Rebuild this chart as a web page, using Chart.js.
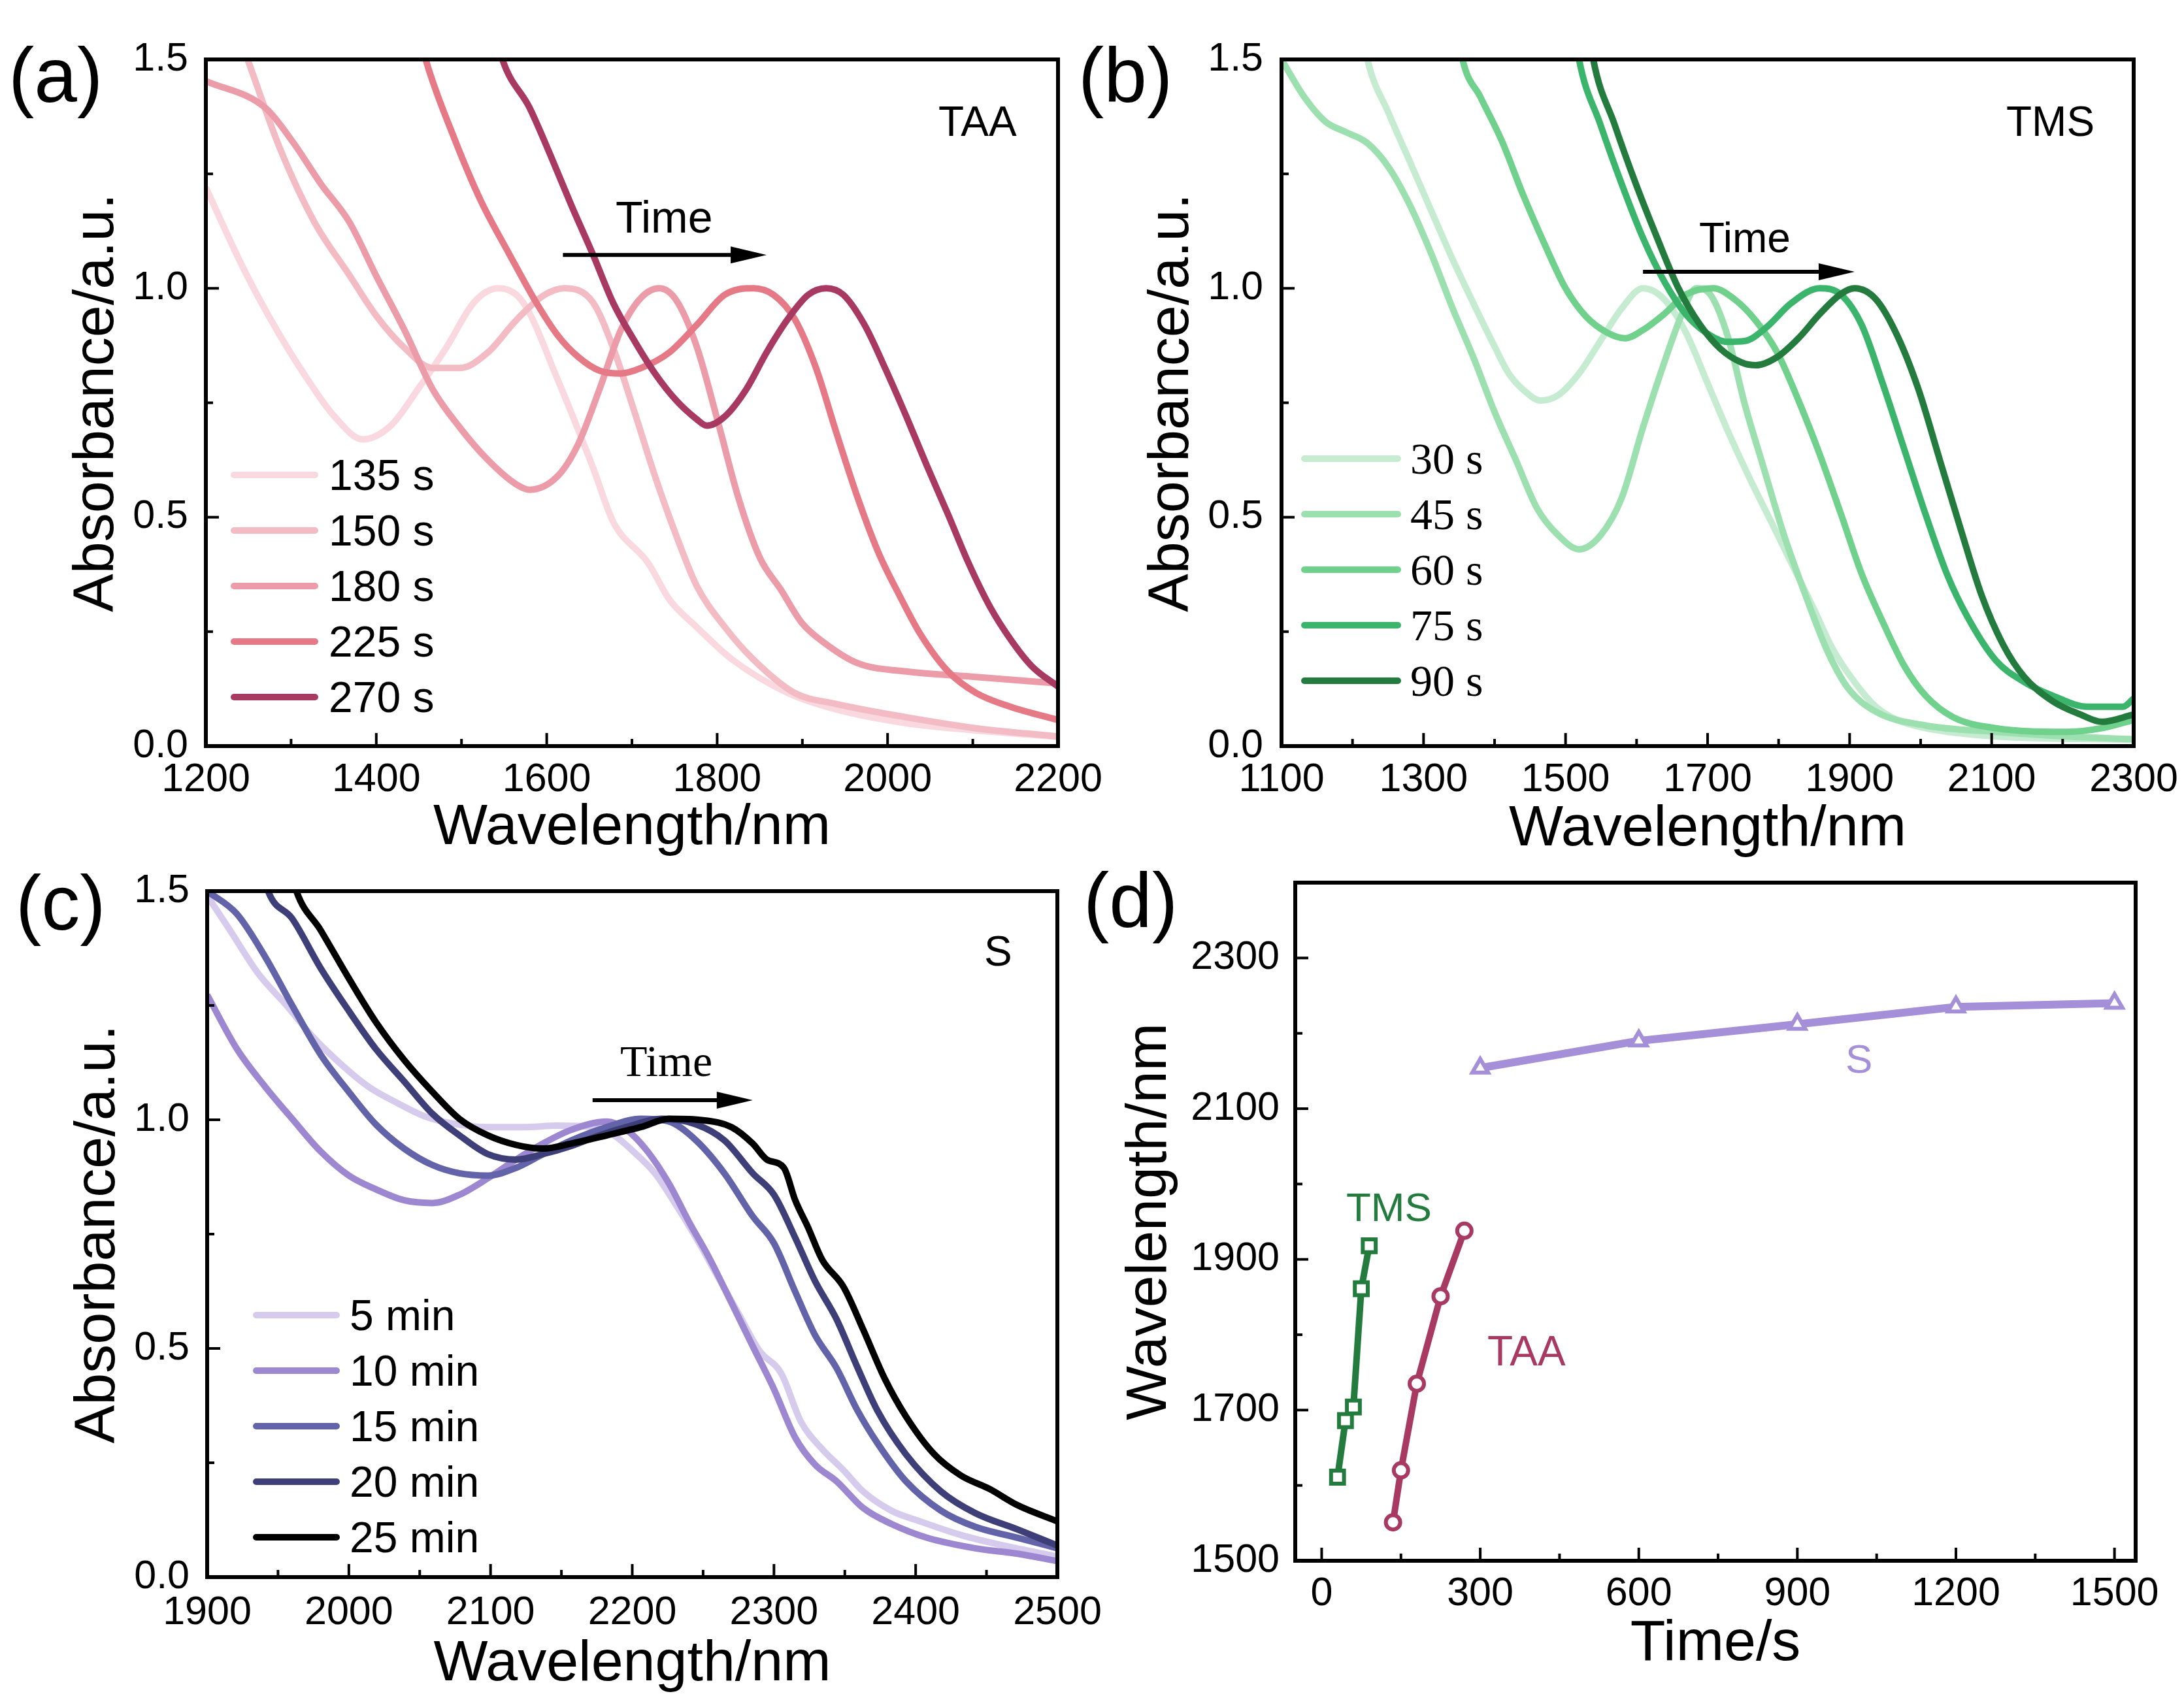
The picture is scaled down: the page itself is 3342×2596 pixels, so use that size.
<!DOCTYPE html>
<html>
<head>
<meta charset="utf-8">
<title>Absorption peak shift</title>
<script src="https://cdn.jsdelivr.net/npm/chart.js@4.4.1/dist/chart.umd.min.js"></script>
<style>
  html, body { margin: 0; padding: 0; background: #fff; }
  #page { position: relative; width: 3342px; height: 2596px; overflow: hidden; background: #fff;
          font-family: "Liberation Sans", Arial, sans-serif; color: #000; }
  canvas { position: absolute; }
  .lbl { position: absolute; line-height: 1; white-space: nowrap; }
  .panel { font-size: 118px; }
  .serif { font-family: "Liberation Serif", "Times New Roman", serif; }
  .row { position: absolute; height: 80px; display: flex; align-items: center; white-space: nowrap; }
  .swatch { display: inline-block; height: 10px; border-radius: 5px; }
</style>
</head>
<body>
<div id="page">
  <canvas id="chartA" width="1720" height="1330" style="left:0;top:0"></canvas>
  <canvas id="chartB" width="1662" height="1330" style="left:1680px;top:0"></canvas>
  <canvas id="chartC" width="1720" height="1296" style="left:0;top:1300px"></canvas>
  <canvas id="chartD" width="1662" height="1296" style="left:1680px;top:1300px"></canvas>

  <div class="lbl panel" style="left:13px;top:56px">(a)</div>
  <div class="lbl panel" style="left:1650px;top:56px">(b)</div>
  <div class="lbl panel" style="left:24px;top:1323px">(c)</div>
  <div class="lbl panel" style="left:1658px;top:1319px">(d)</div>

  <div class="lbl" style="left:1436px;top:154px;font-size:64px">TAA</div>
  <div class="lbl" style="left:3070px;top:154px;font-size:64px">TMS</div>
  <div class="lbl" style="left:1506px;top:1424px;font-size:64px">S</div>

  <div class="lbl" style="left:942px;top:298px;font-size:68px">Time</div>
  <div class="lbl" style="left:2600px;top:332px;font-size:64px">Time</div>
  <div class="lbl serif" style="left:949px;top:1590px;font-size:68px">Time</div>

  <div class="lbl" style="left:2824px;top:1590px;font-size:62px;color:#a48fd8">S</div>
  <div class="lbl" style="left:2060px;top:1817px;font-size:62px;color:#237c3e">TMS</div>
  <div class="lbl" style="left:2276px;top:2036px;font-size:64px;color:#a83a62">TAA</div>

  <div id="legA"></div>
  <div id="legB"></div>
  <div id="legC"></div>
</div>
<script>
// ---- panel (a): TAA, wavelength (nm) / absorbance ----
const namesA = ["135 s", "150 s", "180 s", "225 s", "270 s"];
const colorsA = ["#f9d9df", "#f3bcc5", "#eb9ca8", "#e57a86", "#a83a62"];
const wlA135 = [1200,1245,1286,1327,1351,1384,1417,1449,1482,1515,1543,1572,1613,1654,1678,1719,1744,1776,1817,1883,1940,2022,2100,2200];
const absA135 = [1.22,1.04,0.90,0.78,0.72,0.67,0.70,0.78,0.87,0.97,1.0,0.97,0.80,0.61,0.49,0.40,0.32,0.26,0.19,0.116,0.08,0.05,0.035,0.02];
const wlA150 = [1229,1249,1286,1327,1368,1400,1433,1466,1498,1531,1564,1597,1621,1654,1678,1703,1727,1752,1776,1809,1842,1891,1940,2022,2104,2200];
const absA150 = [1.6,1.5,1.31,1.146,1.03,0.94,0.87,0.826,0.826,0.86,0.93,0.985,1.0,0.97,0.87,0.73,0.59,0.46,0.35,0.26,0.19,0.116,0.092,0.063,0.039,0.021];
const wlA180 = [1200,1270,1302,1335,1368,1400,1433,1466,1498,1531,1564,1580,1613,1637,1662,1687,1711,1732,1752,1776,1801,1825,1850,1875,1899,1924,1965,2022,2104,2200];
const absA180 = [1.453,1.394,1.32,1.228,1.146,1.027,0.909,0.78,0.696,0.625,0.572,0.56,0.59,0.66,0.78,0.909,0.98,1.0,0.974,0.873,0.708,0.542,0.412,0.341,0.27,0.228,0.181,0.163,0.151,0.137];
const wlA225 = [1445,1458,1490,1523,1556,1588,1613,1637,1662,1687,1711,1744,1776,1809,1842,1866,1891,1916,1940,1965,1989,2014,2038,2071,2104,2144,2200];
const absA225 = [1.6,1.5,1.335,1.19,1.075,0.968,0.897,0.85,0.82,0.814,0.826,0.86,0.92,0.986,1.0,0.986,0.933,0.826,0.684,0.542,0.424,0.329,0.246,0.163,0.116,0.086,0.057];
const wlA270 = [1535,1548,1580,1605,1629,1654,1678,1703,1727,1752,1776,1788,1809,1834,1858,1883,1907,1928,1948,1973,1997,2022,2046,2071,2095,2120,2144,2169,2200];
const absA270 = [1.6,1.5,1.394,1.288,1.181,1.075,0.968,0.885,0.814,0.755,0.714,0.70,0.72,0.779,0.86,0.933,0.986,1.0,0.986,0.92,0.826,0.72,0.613,0.506,0.40,0.305,0.234,0.175,0.13];

// ---- panel (b): TMS ----
const namesB = ["30 s", "45 s", "60 s", "75 s", "90 s"];
const colorsB = ["#c5ecd1", "#9ce0b0", "#6fd18c", "#3bb46c", "#237c3e"];
const wlB30 = [1210,1221,1251,1281,1311,1341,1370,1400,1420,1440,1465,1490,1519,1549,1579,1609,1639,1669,1698,1728,1758,1788,1818,1848,1877,1907,1937,1967,2007,2106,2300];
const absB30 = [1.6,1.5,1.382,1.276,1.169,1.063,0.968,0.873,0.814,0.779,0.755,0.767,0.814,0.885,0.956,1.0,0.976,0.905,0.80,0.69,0.589,0.495,0.40,0.305,0.21,0.14,0.086,0.057,0.039,0.021,0.014];
const wlB45 = [1100,1132,1162,1191,1221,1251,1281,1311,1341,1370,1400,1430,1460,1490,1519,1549,1579,1609,1639,1664,1684,1704,1728,1753,1778,1808,1838,1868,1897,1937,2007,2106,2205,2300];
const absB45 = [1.5,1.418,1.364,1.341,1.317,1.264,1.181,1.075,0.956,0.85,0.73,0.625,0.519,0.46,0.43,0.46,0.542,0.696,0.838,0.944,1.0,0.986,0.897,0.743,0.613,0.459,0.329,0.21,0.128,0.075,0.045,0.031,0.021,0.015];
const wlB60 = [1345,1355,1380,1410,1440,1470,1500,1529,1559,1584,1609,1639,1669,1708,1738,1768,1798,1828,1858,1888,1917,1947,1977,2007,2046,2106,2205,2255,2300];
const absB60 = [1.6,1.5,1.418,1.323,1.205,1.098,1.0,0.938,0.903,0.891,0.909,0.944,0.986,1.0,0.976,0.929,0.86,0.755,0.637,0.506,0.376,0.27,0.175,0.11,0.063,0.039,0.031,0.039,0.057];
const wlB75 = [1510,1519,1549,1579,1609,1639,1669,1698,1728,1753,1783,1818,1858,1888,1917,1947,1977,2007,2037,2066,2106,2146,2186,2235,2285,2300];
const absB75 = [1.6,1.5,1.358,1.228,1.11,1.015,0.944,0.903,0.883,0.885,0.915,0.968,1.0,0.986,0.92,0.79,0.648,0.506,0.376,0.282,0.187,0.14,0.11,0.086,0.086,0.104];
const wlB90 = [1530,1539,1569,1599,1629,1659,1689,1718,1748,1768,1798,1828,1858,1888,1907,1937,1967,1997,2027,2057,2086,2116,2146,2186,2225,2255,2300];
const absB90 = [1.6,1.5,1.358,1.228,1.11,1.0,0.921,0.868,0.838,0.832,0.85,0.891,0.944,0.988,1.0,0.976,0.897,0.779,0.625,0.471,0.329,0.222,0.151,0.098,0.069,0.053,0.069];

// ---- panel (c): S ----
const namesC = ["5 min", "10 min", "15 min", "20 min", "25 min"];
const colorsC = ["#d6cbec", "#9d87d0", "#6263a9", "#3e3e78", "#000000"];
const wlC5 = [1900,1916,1936,1956,1975,1995,2014,2034,2054,2073,2098,2123,2147,2172,2187,2201,2216,2231,2245,2260,2275,2290,2305,2319,2334,2349,2363,2383,2403,2432,2462,2500];
const absC5 = [1.49,1.415,1.32,1.25,1.18,1.12,1.072,1.037,1.007,0.992,0.984,0.984,0.987,0.984,0.966,0.93,0.883,0.813,0.742,0.659,0.576,0.494,0.446,0.34,0.28,0.234,0.187,0.145,0.122,0.092,0.069,0.045];
const wlC10 = [1900,1921,1941,1960,1980,2000,2019,2039,2059,2078,2098,2118,2137,2157,2182,2196,2211,2226,2240,2255,2270,2285,2300,2315,2329,2344,2363,2383,2408,2442,2472,2500];
const absC10 = [1.273,1.155,1.072,1.002,0.931,0.878,0.848,0.824,0.818,0.836,0.872,0.913,0.948,0.978,0.996,0.978,0.93,0.86,0.777,0.694,0.60,0.505,0.411,0.305,0.246,0.21,0.151,0.116,0.086,0.063,0.051,0.035];
const wlC15 = [1900,1921,1941,1960,1980,2000,2019,2039,2059,2078,2098,2118,2137,2157,2182,2206,2226,2245,2265,2285,2300,2315,2329,2344,2359,2373,2393,2418,2442,2472,2500];
const absC15 = [1.5,1.45,1.356,1.25,1.143,1.061,0.99,0.937,0.901,0.883,0.878,0.895,0.925,0.955,0.984,1.002,0.996,0.955,0.883,0.789,0.73,0.624,0.529,0.458,0.364,0.293,0.21,0.145,0.11,0.086,0.063];
const wlC20 = [1935,1943,1960,1980,2000,2019,2039,2059,2078,2098,2118,2137,2157,2177,2196,2221,2245,2265,2285,2300,2315,2329,2344,2359,2373,2393,2418,2442,2472,2500];
const absC20 = [1.6,1.5,1.44,1.332,1.238,1.155,1.084,1.013,0.966,0.925,0.913,0.925,0.943,0.966,0.984,1.002,0.99,0.955,0.883,0.836,0.742,0.647,0.565,0.458,0.364,0.269,0.187,0.14,0.104,0.069];
const wlC25 = [1955,1963,1980,2000,2019,2039,2059,2078,2098,2118,2137,2157,2182,2206,2226,2250,2270,2285,2295,2307,2315,2324,2334,2349,2363,2378,2393,2413,2432,2452,2472,2500];
const absC25 = [1.6,1.5,1.415,1.309,1.214,1.131,1.061,1.002,0.966,0.945,0.937,0.948,0.966,0.984,1.002,0.999,0.984,0.948,0.913,0.895,0.824,0.765,0.694,0.635,0.541,0.435,0.352,0.269,0.222,0.193,0.157,0.122];

// ---- panel (d): peak position vs time ----
const timeTMS = [30, 45, 60, 75, 90];
const peakTMS = [1611, 1686, 1704, 1861, 1918];
const timeTAA = [135, 150, 180, 225, 270];
const peakTAA = [1551, 1620, 1735, 1851, 1938];
const timeS = [300, 600, 900, 1200, 1500];
const peakS = [2154, 2190, 2212, 2235, 2240];

// ticks
const absMajor = [0, 0.5, 1.0, 1.5];
const absMinor = [0.25, 0.75, 1.25];
const wlMajorA = [1200, 1400, 1600, 1800, 2000, 2200];
const wlMinorA = [1300, 1500, 1700, 1900, 2100];
const wlMajorB = [1100, 1300, 1500, 1700, 1900, 2100, 2300];
const wlMinorB = [1200, 1400, 1600, 1800, 2000, 2200];
const wlMajorC = [1900, 2000, 2100, 2200, 2300, 2400, 2500];
const wlMinorC = [1950, 2050, 2150, 2250, 2350, 2450];
const timeMajor = [0, 300, 600, 900, 1200, 1500];
const timeMinor = [150, 450, 750, 1050, 1350];
const peakMajor = [1500, 1700, 1900, 2100, 2300];
const peakMinor = [1600, 1800, 2000, 2200];

Chart.defaults.font.family = '"Liberation Sans", Arial, sans-serif';
Chart.defaults.color = "#000";

function pts(xs, ys) {
  return xs.map((x, i) => ({ x: x, y: ys[i] }));
}

// inward ticks, closed frame and the "Time" arrow
const frameTicks = {
  id: "frameTicks",
  afterDraw(chart, args, opts) {
    const ctx = chart.ctx;
    const a = chart.chartArea;
    const xs = chart.scales.x, ys = chart.scales.y;
    ctx.save();
    ctx.strokeStyle = "#000";
    ctx.lineWidth = 4;
    xs.ticks.forEach(t => {
      const p = xs.getPixelForValue(t.value);
      const len = t.label !== "" ? 20 : 11;
      ctx.beginPath(); ctx.moveTo(p, a.bottom); ctx.lineTo(p, a.bottom - len); ctx.stroke();
    });
    ys.ticks.forEach(t => {
      const p = ys.getPixelForValue(t.value);
      const len = t.label !== "" ? 20 : 11;
      ctx.beginPath(); ctx.moveTo(a.left, p); ctx.lineTo(a.left + len, p); ctx.stroke();
    });
    ctx.lineWidth = 6;
    ctx.strokeRect(a.left, a.top, a.right - a.left, a.bottom - a.top);
    if (opts && opts.arrow) {
      const ar = opts.arrow;
      const x0 = xs.getPixelForValue(ar.from), x1 = xs.getPixelForValue(ar.to);
      const y = ys.getPixelForValue(ar.at);
      ctx.fillStyle = "#000";
      ctx.lineWidth = 6;
      ctx.beginPath(); ctx.moveTo(x0, y); ctx.lineTo(x1 - 40, y); ctx.stroke();
      ctx.beginPath(); ctx.moveTo(x1, y); ctx.lineTo(x1 - 55, y - 13); ctx.lineTo(x1 - 55, y + 13); ctx.closePath(); ctx.fill();
    }
    ctx.restore();
  }
};

function axis(o, isX, size) {
  const all = o.major.concat(o.minor).sort((p, q) => p - q);
  return {
    type: "linear",
    min: o.min,
    max: o.max,
    grid: { display: false, drawTicks: false },
    border: { display: false },
    afterBuildTicks: s => { s.ticks = all.map(v => ({ value: v })); },
    ticks: {
      autoSkip: false,
      maxRotation: 0,
      padding: o.labelPad,
      font: { size: 61 },
      color: "#000",
      callback: v => o.major.includes(v) ? (o.fmt ? o.fmt(v) : String(v)) : ""
    },
    title: {
      display: true,
      text: o.title,
      color: "#000",
      font: { size: 88, lineHeight: 1 },
      padding: isX ? { top: 0, bottom: o.titlePad } : { top: o.titlePad, bottom: 0 }
    },
    afterFit: s => {
      if (isX) { s.height = size; s.paddingLeft = 0; s.paddingRight = 0; }
      else { s.width = size; s.paddingTop = 0; s.paddingBottom = 0; }
    }
  };
}

function makeChart(id, box, xo, yo, datasets, arrow) {
  const canvas = document.getElementById(id);
  const w = canvas.width, h = canvas.height;
  return new Chart(canvas.getContext("2d"), {
    type: "line",
    data: { datasets: datasets },
    options: {
      responsive: false,
      animation: false,
      devicePixelRatio: 1,
      events: [],
      layout: { padding: { left: 0, top: box.t, right: w - box.r, bottom: 0 } },
      scales: {
        x: axis(xo, true, h - box.b),
        y: axis(yo, false, box.l)
      },
      plugins: {
        legend: { display: false },
        tooltip: { enabled: false },
        frameTicks: { arrow: arrow }
      }
    },
    plugins: [frameTicks]
  });
}

function spectra(wls, abss, colors) {
  return wls.map((wl, i) => ({
    data: pts(wl, abss[i]),
    borderColor: colors[i],
    borderWidth: 10,
    pointRadius: 0,
    cubicInterpolationMode: "monotone",
    clip: 0,
    order: wls.length - i
  }));
}

const absFmt = v => v.toFixed(1);

makeChart("chartA", { l: 315, t: 91, r: 1619, b: 1142 },
  { min: 1200, max: 2200, major: wlMajorA, minor: wlMinorA, title: "Wavelength/nm", labelPad: 16, titlePad: 18 },
  { min: 0, max: 1.5, major: absMajor, minor: absMinor, fmt: absFmt, title: "Absorbance/a.u.", labelPad: 27, titlePad: 105 },
  spectra([wlA135, wlA150, wlA180, wlA225, wlA270], [absA135, absA150, absA180, absA225, absA270], colorsA),
  { from: 1619, to: 1858, at: 1.073 });

makeChart("chartB", { l: 281, t: 91, r: 1585, b: 1142 },
  { min: 1100, max: 2300, major: wlMajorB, minor: wlMinorB, title: "Wavelength/nm", labelPad: 16, titlePad: 16 },
  { min: 0, max: 1.5, major: absMajor, minor: absMinor, fmt: absFmt, title: "Absorbance/a.u.", labelPad: 28, titlePad: 70 },
  spectra([wlB30, wlB45, wlB60, wlB75, wlB90], [absB30, absB45, absB60, absB75, absB90], colorsB),
  { from: 1609, to: 1907, at: 1.036 });

makeChart("chartC", { l: 317, t: 64, r: 1618, b: 1114 },
  { min: 1900, max: 2500, major: wlMajorC, minor: wlMinorC, title: "Wavelength/nm", labelPad: 19, titlePad: 4 },
  { min: 0, max: 1.5, major: absMajor, minor: absMinor, fmt: absFmt, title: "Absorbance/a.u.", labelPad: 27, titlePad: 107 },
  spectra([wlC5, wlC10, wlC15, wlC20, wlC25], [absC5, absC10, absC15, absC20, absC25], colorsC),
  { from: 2172, to: 2285, at: 1.043 });

function peakSeries(xs, ys, color, style, radius, width) {
  return {
    data: pts(xs, ys),
    borderColor: color,
    borderWidth: width,
    pointStyle: style,
    pointRadius: radius,
    pointBorderWidth: 6,
    pointBorderColor: color,
    pointBackgroundColor: "#ffffff",
    tension: 0,
    clip: 0
  };
}

makeChart("chartD", { l: 302, t: 51, r: 1588, b: 1089 },
  { min: -50, max: 1540, major: timeMajor, minor: timeMinor, title: "Time/s", labelPad: 15, titlePad: 35 },
  { min: 1500, max: 2400, major: peakMajor, minor: peakMinor, title: "Wavelength/nm", labelPad: 24, titlePad: 36 },
  [
    peakSeries(timeTMS, peakTMS, "#237c3e", "rect", 14, 10),
    peakSeries(timeTAA, peakTAA, "#a83a62", "circle", 11, 10),
    peakSeries(timeS, peakS, "#a48fd8", "triangle", 14, 12)
  ],
  null);

// legends inside the spectra panels
function legend(id, names, colors, lineLeft, lineWidth, textLeft, firstRow, size, serif) {
  const host = document.getElementById(id);
  names.forEach((n, i) => {
    const row = document.createElement("div");
    row.className = "row" + (serif ? " serif" : "");
    row.style.left = lineLeft + "px";
    row.style.top = (firstRow + i * 85 - 40) + "px";
    row.style.fontSize = size + "px";
    const sw = document.createElement("span");
    sw.className = "swatch";
    sw.style.width = lineWidth + "px";
    sw.style.background = colors[i];
    sw.style.marginRight = (textLeft - lineLeft - lineWidth) + "px";
    const tx = document.createElement("span");
    tx.textContent = n;
    row.appendChild(sw);
    row.appendChild(tx);
    host.appendChild(row);
  });
}

legend("legA", namesA, colorsA, 353, 134, 503, 727, 66, false);
legend("legB", namesB, colorsB, 1991, 153, 2158, 702, 68, true);
legend("legC", namesC, colorsC, 387, 133, 535, 2013, 66, false);
</script>
</body>
</html>
